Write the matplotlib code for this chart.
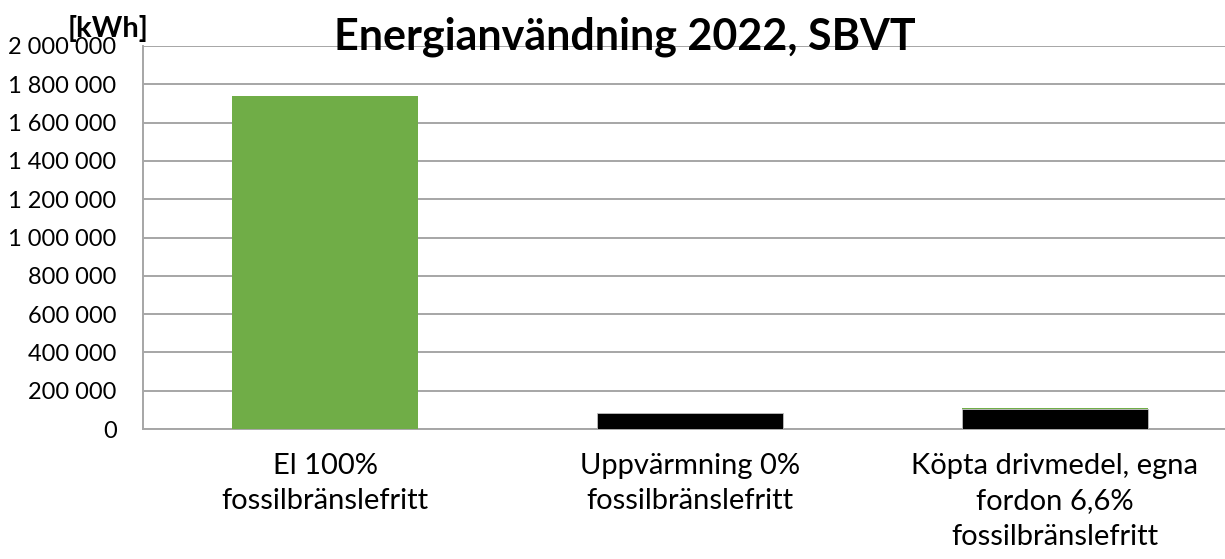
import numpy as np
import matplotlib.pyplot as plt
from matplotlib.ticker import FuncFormatter

# data
categories = ['El 100%\nfossilbränslefritt',
              'Uppvärmning 0%\nfossilbränslefritt',
              'Köpta drivmedel, egna\nfordon 6,6%\nfossilbränslefritt']
fossil = [0, 81000, 103000]
fossilfree = [1741000, 0, 7300]

plt.rcParams['font.family'] = ['Lato', 'DejaVu Sans']

fig = plt.figure(figsize=(12.25, 5.59), dpi=100)
ax = fig.add_axes([143 / 1225, 1 - 429 / 559, 1094 / 1225, 383 / 559])

x = np.arange(len(categories))
ax.bar(x, fossil, width=0.51, color='black', edgecolor='#bfbfbf', linewidth=0.6, zorder=3)
ax.bar(x, fossilfree, width=0.51, bottom=fossil, color='#70ad47', zorder=3)

ax.set_xlim(-0.5, 2.5)
ax.set_ylim(0, 2000000)
ax.set_yticks(np.arange(0, 2000001, 200000))
ax.yaxis.set_major_formatter(FuncFormatter(lambda v, p: f'{int(v):,}'.replace(',', ' ')))
ax.set_xticks(x)
ax.set_xticklabels(categories, fontsize=21, va='top')
for lbl in ax.get_xticklabels():
    lbl.set_linespacing(1.45)
ax.tick_params(axis='y', length=0, labelsize=17, pad=19)
ax.tick_params(axis='x', length=0, pad=17)

ax.grid(axis='y', color='#a6a6a6', linewidth=1.4, zorder=0)
for s in ['top', 'right']:
    ax.spines[s].set_visible(False)
for s in ['left', 'bottom']:
    ax.spines[s].set_color('#a6a6a6')
    ax.spines[s].set_linewidth(1.4)

fig.text(625 / 1225, 1 - 37 / 559, 'Energianvändning 2022, SBVT', ha='center', va='center',
         fontsize=31, fontweight='bold')
fig.text(108 / 1225, 1 - 29 / 559, '[kWh]', ha='center', va='center',
         fontsize=21, fontweight='bold')

fig.savefig('out.png', dpi=100)
